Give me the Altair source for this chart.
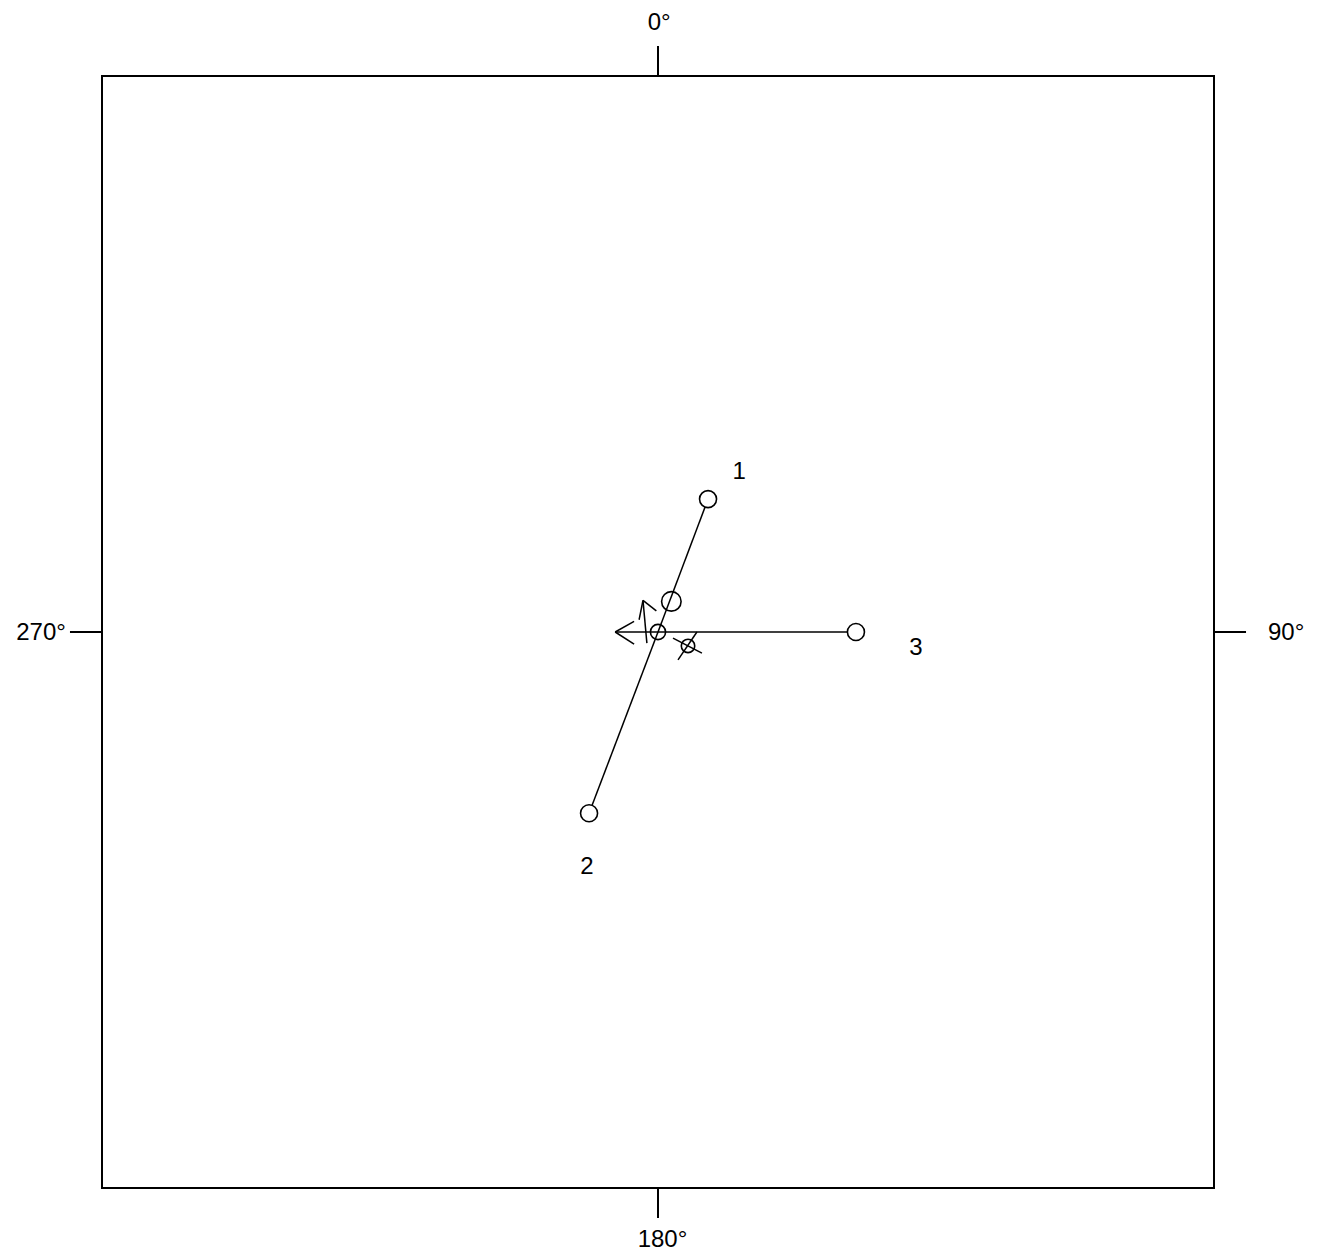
import altair as alt
import pandas as pd

# data units: frame spans -1..1 on both axes
point_labels = ["1", "2", "3"]
point_x = [0.090, -0.124, 0.356]
point_y = [0.239, -0.326, 0.0]
label_x = [0.146, -0.128, 0.464]
label_y = [0.288, -0.423, -0.029]

# small central symbols
centre_x = [0.0, 0.024, 0.054]
centre_y = [0.0, 0.055, -0.025]
centre_size = [230, 380, 180]

# cross through the small circle B (two strokes)
cross_x = [0.070, 0.079]
cross_y = [0.000, -0.038]
cross_x2 = [0.036, 0.027]
cross_y2 = [-0.050, -0.011]

# arrows (stem + two barbs each)
arrow_x = [0.0, -0.077, -0.077, -0.020, -0.027, -0.027]
arrow_y = [0.0, 0.0, 0.0, -0.020, 0.057, 0.057]
arrow_x2 = [-0.077, -0.043, -0.043, -0.027, -0.034, -0.003]
arrow_y2 = [0.0, 0.019, -0.022, 0.057, 0.022, 0.038]

# direction labels
dir_labels = ["0°", "90°", "180°", "270°"]
dir_x = [0.002, 1.097, 0.008, -1.065]
dir_y = [1.096, -0.002, -1.093, -0.002]
dir_align = ["center", "left", "center", "right"]

tick_x = [0.0, 1.0, 0.0, -1.0]
tick_y = [1.0, 0.0, -1.0, 0.0]
tick_x2 = [0.0, 1.0576, 0.0, -1.0576]
tick_y2 = [1.054, 0.0, -1.054, 0.0]

FONT = "Liberation Sans"
FS = 24

xs = alt.Scale(domain=[-1, 1], nice=False, zero=False)
ys = alt.Scale(domain=[-1, 1], nice=False, zero=False)
X = lambda f: alt.X(f, type="quantitative", scale=xs, axis=None)
Y = lambda f: alt.Y(f, type="quantitative", scale=ys, axis=None)

# spokes from centre to points
spokes = pd.DataFrame({"x": [0.0] * 3, "y": [0.0] * 3, "x2": point_x, "y2": point_y})
spoke_layer = alt.Chart(spokes).mark_rule(color="black", strokeWidth=1.5, clip=False).encode(
    x=X("x"), y=Y("y"), x2="x2", y2="y2")

arrows = pd.DataFrame({"x": arrow_x, "y": arrow_y, "x2": arrow_x2, "y2": arrow_y2})
arrow_layer = alt.Chart(arrows).mark_rule(color="black", strokeWidth=1.5).encode(
    x=X("x"), y=Y("y"), x2="x2", y2="y2")

cross = pd.DataFrame({"x": cross_x, "y": cross_y, "x2": cross_x2, "y2": cross_y2})
cross_layer = alt.Chart(cross).mark_rule(color="black", strokeWidth=1.5).encode(
    x=X("x"), y=Y("y"), x2="x2", y2="y2")

pts = pd.DataFrame({"x": point_x, "y": point_y, "label": point_labels})
pt_layer = alt.Chart(pts).mark_point(
    shape="circle", size=290, filled=True, fill="white", stroke="black", strokeWidth=1.6, opacity=1
).encode(x=X("x"), y=Y("y"))

cen = pd.DataFrame({"x": centre_x, "y": centre_y, "s": centre_size})
cen_layer = alt.Chart(cen).mark_point(
    shape="circle", filled=False, stroke="black", strokeWidth=1.6, opacity=1
).encode(x=X("x"), y=Y("y"), size=alt.Size("s:Q", scale=None, legend=None))

labs = pd.DataFrame({"x": label_x, "y": label_y, "t": point_labels})
lab_layer = alt.Chart(labs).mark_text(
    font=FONT, fontSize=FS, color="black", align="center", baseline="middle"
).encode(x=X("x"), y=Y("y"), text="t:N")

ticks = pd.DataFrame({"x": tick_x, "y": tick_y, "x2": tick_x2, "y2": tick_y2})
tick_layer = alt.Chart(ticks).mark_rule(color="black", strokeWidth=2, clip=False).encode(
    x=X("x"), y=Y("y"), x2="x2", y2="y2")

dirs = pd.DataFrame({"x": dir_x, "y": dir_y, "t": dir_labels, "a": dir_align})
dir_layers = []
for a in ["center", "left", "right"]:
    sub = dirs[dirs["a"] == a]
    dir_layers.append(
        alt.Chart(sub).mark_text(
            font=FONT, fontSize=FS, color="black", align=a, baseline="middle", clip=False
        ).encode(x=X("x"), y=Y("y"), text="t:N")
    )

chart = alt.layer(
    tick_layer, spoke_layer, arrow_layer, cross_layer, cen_layer, pt_layer, lab_layer, *dir_layers
).properties(
    width=1112, height=1112,
    autosize=alt.AutoSizeParams(type="none"),
    padding={"left": 94, "top": 68, "right": 100, "bottom": 66},
    background="white",
).configure_view(stroke="black", strokeWidth=2)

chart.save("out.html", embed_options={"renderer": "svg", "actions": False})
